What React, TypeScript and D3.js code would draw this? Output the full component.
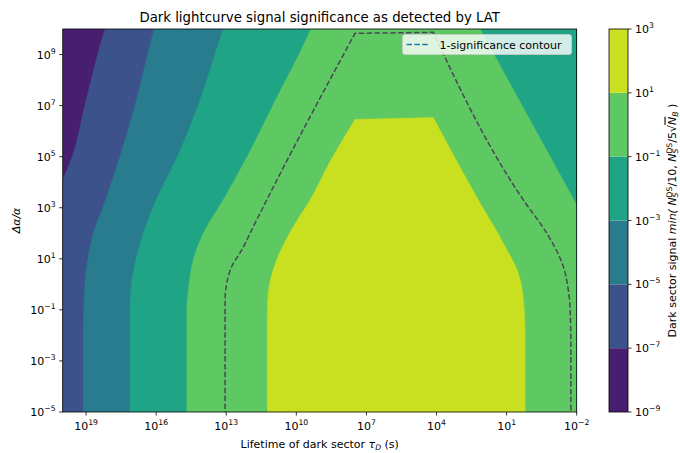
import React from "react";
import * as d3 from "d3";

// ---- data (log10 values) ----
const X_DOMAIN_EXP = [20, -2]; // lifetime tau_D (s), reversed
const Y_DOMAIN_EXP = [-5, 10]; // delta alpha / alpha
const X_TICK_EXP = [19, 16, 13, 10, 7, 4, 1, -2];
const Y_TICK_EXP = [-5, -3, -1, 1, 3, 5, 7, 9];
const LEVEL_EXP = [-9, -7, -5, -3, -1, 1, 3];

// contour boundaries [log10 tau, log10 dAlpha/alpha], each listed top -> bottom or as noted
const edgeM7 = [[18.05, 10.4], [18.19, 10], [19.05, 7.02], [19.6, 4.99], [20, 4.09], [20.4, 3.2]];
const edgeM5 = [[15.95, 10.4], [16.08, 10], [16.9, 7.02], [17.55, 5.0], [18.19, 3.24], [18.69, 2.0], [18.97, 0.69], [19.09, -0.61], [19.12, -2], [19.12, -5.5]];
const edgeM3 = [[12.98, 10.4], [13.13, 10], [14.2, 7.02], [15.1, 4.99], [16.0, 3.3], [16.55, 2.0], [17.05, 0.04], [17.12, -1.01], [17.12, -2.5], [17.12, -5.5]];
const edgeM1Left = [[9.2, 10.4], [9.38, 10], [11.0, 7.02], [12.11, 4.99], [13.13, 3.3], [13.98, 2.0], [14.41, 0.95], [14.62, -0.22], [14.69, -1.01], [14.69, -2.5], [14.69, -5.5]];
const edgeM1Right = [[-3, 1.45], [-2.0, 3.11], [2.14, 10], [2.38, 10.4]]; // bottom -> top
const edgeP1Left = [[11.24, -5.5], [11.24, -2.5], [11.24, -1.27], [11.2, -0.35], [10.84, 0.95], [10.13, 2.26], [9.41, 3.3], [8.56, 4.8], [7.49, 6.46]]; // bottom -> top
const edgeP1Right = [[4.14, 6.53], [2.21, 3.3], [1.14, 1.61], [0.5, 0.43], [0.28, -0.61], [0.21, -1.92], [0.21, -2.5], [0.21, -5.5]]; // top -> bottom
const sigmaLeft = [[13.05, -5.5], [13.05, -2.5], [13.05, -0.61], [12.98, 0.04], [12.77, 0.69], [12.34, 1.34], [11.84, 2.26], [11.27, 3.3], [7.49, 9.83]]; // bottom -> top
const sigmaRight = [[4.14, 9.87], [0.28, 3.3], [-0.72, 2.0], [-1.43, 0.69], [-1.64, -0.22], [-1.72, -1.01], [-1.75, -2.5], [-1.75, -5.5]]; // top -> bottom

const FONT = "DejaVu Sans, sans-serif";
const FS = 11;

function Pow({ exp, x, y, anchor }: { exp: number; x: number; y: number; anchor: string }) {
  const s = exp < 0 ? "\u2212" + Math.abs(exp) : String(exp);
  return (
    <text x={x} y={y} textAnchor={anchor} fontSize={FS} fontFamily={FONT} fill="#000">
      <tspan>10</tspan>
      <tspan dy={-5} fontSize={7.7}>{s}</tspan>
    </text>
  );
}

export default function App() {
  const L = 62.7, R = 576.7, T = 29, B = 412;
  const x = d3.scaleLog().domain(X_DOMAIN_EXP.map((e) => Math.pow(10, e))).range([L, R]);
  const y = d3.scaleLog().domain(Y_DOMAIN_EXP.map((e) => Math.pow(10, e))).range([B, T]);
  const px = (p: number[]) => [x(Math.pow(10, p[0])), y(Math.pow(10, p[1]))] as [number, number];
  const curve = d3.line().curve(d3.curveMonotoneY);
  const seg = (pts: number[][]) => curve(pts.map(px)) as string;
  const cont = (pts: number[][]) => seg(pts).replace(/^M/, "L");
  const corner = (p: number[]) => { const q = px(p); return `L${q[0]},${q[1]}`; };

  const colors = d3.range(6).map((i) => d3.interpolateViridis((i + 0.5) / 6));

  const polys = [
    seg(edgeM7) + corner([20.6, -5.5]) + corner([-2.6, -5.5]) + corner([-2.6, 10.5]) + "Z",
    seg(edgeM5) + corner([-2.6, -5.5]) + corner([-2.6, 10.5]) + "Z",
    seg(edgeM3) + corner([-2.6, -5.5]) + corner([-2.6, 10.5]) + "Z",
    seg(edgeM1Left) + corner([-3, -5.5]) + cont(edgeM1Right) + "Z",
    seg(edgeP1Left) + cont(edgeP1Right) + "Z",
  ];
  const sigmaPath = seg(sigmaLeft) + cont(sigmaRight);

  // colorbar
  const cbL = 609, cbR = 628;
  const cb = d3.scaleLog().domain([1e-9, 1e3]).range([B, T]);
  const SUP = 7.7;

  return (
    <svg width={680} height={453} style={{ position: "absolute", left: 0, top: 0, background: "#fff" }}>
      <defs>
        <clipPath id="plotclip">
          <rect x={L} y={T} width={R - L} height={B - T} />
        </clipPath>
      </defs>
      <text x={(L + R) / 2} y={22} textAnchor="middle" fontSize={13.3} fontFamily={FONT}>
        Dark lightcurve signal significance as detected by LAT
      </text>
      <g clipPath="url(#plotclip)">
        <rect x={L} y={T} width={R - L} height={B - T} fill={colors[0]} />
        {polys.map((d, i) => (
          <path key={i} d={d} fill={colors[i + 1]} stroke={colors[i + 1]} strokeWidth={0.5} />
        ))}
        <path d={sigmaPath} fill="none" stroke="#4a4656" strokeWidth={1.5} strokeDasharray="5.5,2.4" />
      </g>
      <rect x={L} y={T} width={R - L} height={B - T} fill="none" stroke="#000" strokeWidth={0.8} />
      {X_TICK_EXP.map((e) => {
        const xx = x(Math.pow(10, e));
        return (
          <g key={"x" + e}>
            <line x1={xx} x2={xx} y1={B} y2={B + 3.5} stroke="#000" strokeWidth={0.8} />
            <Pow exp={e} x={xx} y={B + 18} anchor="middle" />
          </g>
        );
      })}
      {Y_TICK_EXP.map((e) => {
        const yy = y(Math.pow(10, e));
        return (
          <g key={"y" + e}>
            <line x1={L - 3.5} x2={L} y1={yy} y2={yy} stroke="#000" strokeWidth={0.8} />
            <Pow exp={e} x={L - 7} y={yy + 4} anchor="end" />
          </g>
        );
      })}
      <text x={(L + R) / 2} y={448} textAnchor="middle" fontSize={FS} fontFamily={FONT}>
        <tspan>Lifetime of dark sector </tspan>
        <tspan fontStyle="italic">τ</tspan>
        <tspan fontStyle="italic" fontSize={SUP} dy={2}>D</tspan>
        <tspan dy={-2}> (s)</tspan>
      </text>
      <text transform={`translate(20,${(T + B) / 2}) rotate(-90)`} textAnchor="middle" fontSize={FS} fontFamily={FONT} fontStyle="italic">
        Δα/α
      </text>
      {/* legend */}
      <rect x={402.5} y={34.5} width={169} height={20} rx={2.5} fill="#fff" fillOpacity={0.8} stroke="#ccc" strokeWidth={0.8} />
      <line x1={406.5} x2={429} y1={44.5} y2={44.5} stroke="#1f77b4" strokeWidth={1.5} strokeDasharray="5.5,2.4" />
      <text x={439.5} y={48.5} fontSize={FS} fontFamily={FONT}>1-significance contour</text>
      {/* colorbar */}
      {d3.range(6).map((i) => (
        <rect key={"cb" + i} x={cbL} width={cbR - cbL}
          y={cb(Math.pow(10, LEVEL_EXP[i + 1]))}
          height={cb(Math.pow(10, LEVEL_EXP[i])) - cb(Math.pow(10, LEVEL_EXP[i + 1]))}
          fill={colors[i]} />
      ))}
      <rect x={cbL} y={T} width={cbR - cbL} height={B - T} fill="none" stroke="#000" strokeWidth={0.8} />
      {LEVEL_EXP.map((e) => {
        const yy = cb(Math.pow(10, e));
        return (
          <g key={"c" + e}>
            <line x1={cbR} x2={cbR + 3.5} y1={yy} y2={yy} stroke="#000" strokeWidth={0.8} />
            <Pow exp={e} x={cbR + 7} y={yy + 4} anchor="start" />
          </g>
        );
      })}
      <text transform={`translate(675.5,${(T + B) / 2}) rotate(-90)`} textAnchor="middle" fontSize={FS} fontFamily={FONT}>
        <tspan>Dark sector signal </tspan>
        <tspan fontStyle="italic">min( N</tspan>
        <tspan fontSize={SUP} dy={-4}>DS</tspan>
        <tspan fontSize={SUP} dx={-10.8} dy={6.5} fontStyle="italic">S</tspan>
        <tspan dx={6} dy={-2.5}>/10,  </tspan>
        <tspan fontStyle="italic">N</tspan>
        <tspan fontSize={SUP} dy={-4}>DS</tspan>
        <tspan fontSize={SUP} dx={-10.8} dy={6.5} fontStyle="italic">S</tspan>
        <tspan dx={6} dy={-2.5}>/5√</tspan>
        <tspan fontStyle="italic" textDecoration="overline">N</tspan>
        <tspan fontSize={SUP} dy={2} fontStyle="italic">B</tspan>
        <tspan dy={-2}> )</tspan>
      </text>
    </svg>
  );
}
